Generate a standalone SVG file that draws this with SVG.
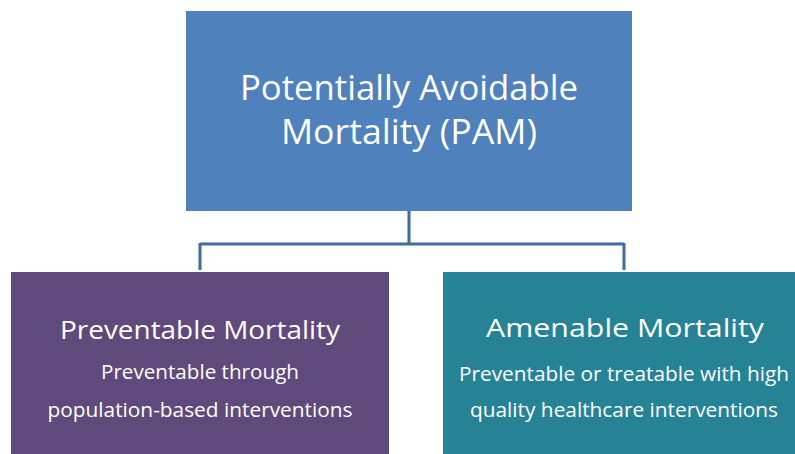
<svg xmlns="http://www.w3.org/2000/svg" width="795" height="454" viewBox="0 0 795 454">
<style>
text{font-family:"Open Sans","Liberation Sans",sans-serif;fill:#fff;text-anchor:middle;font-feature-settings:"liga" 0,"clig" 0}
.t{font-size:35px}
.h{font-size:26px}
.s{font-size:19.5px}
.c{fill:none;stroke:#3E6C9E;stroke-width:3}
</style>
<rect width="795" height="454" fill="#fff"/>
<g id="connectors">
<path class="c" d="M409 211V244M200 244H624M200 243V270M624 243V270"/>
</g>
<g id="pam">
<rect x="186" y="11" width="446" height="200" fill="#4F81BD"/>
<text class="t" x="409" y="100" textLength="338" lengthAdjust="spacingAndGlyphs">Potentially Avoidable</text>
<text class="t" x="409" y="144" textLength="256" lengthAdjust="spacingAndGlyphs">Mortality (PAM)</text>
</g>
<g id="preventable">
<rect x="11" y="272" width="378" height="190" fill="#604A7B"/>
<text class="h" x="200" y="339" textLength="280" lengthAdjust="spacingAndGlyphs">Preventable Mortality</text>
<text class="s" x="200" y="379" textLength="198" lengthAdjust="spacingAndGlyphs">Preventable through</text>
<text class="s" x="200" y="417" textLength="305" lengthAdjust="spacingAndGlyphs">population-based interventions</text>
</g>
<g id="amenable">
<rect x="443" y="272" width="362" height="190" fill="#268396"/>
<text class="h" x="625" y="337" textLength="278" lengthAdjust="spacingAndGlyphs">Amenable Mortality</text>
<text class="s" x="624" y="381" textLength="330" lengthAdjust="spacingAndGlyphs">Preventable or treatable with high</text>
<text class="s" x="624" y="417" textLength="308" lengthAdjust="spacingAndGlyphs">quality healthcare interventions</text>
</g>
</svg>
